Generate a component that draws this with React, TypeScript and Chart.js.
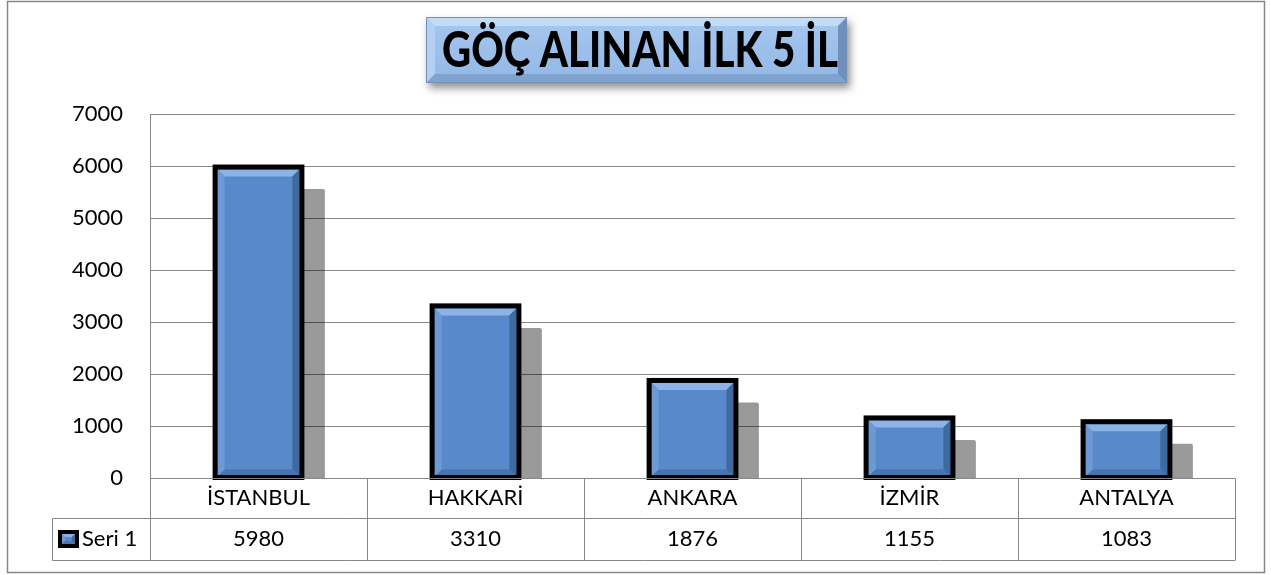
import React, { useEffect, useRef } from "react";
import { Chart, registerables } from "chart.js";

Chart.register(...registerables);

const TITLE = "GÖÇ ALINAN İLK 5 İL";
const categories = ["İSTANBUL", "HAKKARİ", "ANKARA", "İZMİR", "ANTALYA"];
const seriesName = "Seri 1";
const values = [5980, 3310, 1876, 1155, 1083];
const yMin = 0;
const yMax = 7000;
const yStep = 1000;

const FONT = "Lato, 'Open Sans', sans-serif";
const GRID = "#878787";

function bevel(
  ctx: CanvasRenderingContext2D,
  l: number, t: number, r: number, b: number, s: number,
  c: { top: string; left: string; right: string; bottom: string }
) {
  const poly = (pts: number[][], col: string) => {
    ctx.beginPath();
    ctx.moveTo(pts[0][0], pts[0][1]);
    for (let i = 1; i < pts.length; i++) ctx.lineTo(pts[i][0], pts[i][1]);
    ctx.closePath();
    ctx.fillStyle = col;
    ctx.fill();
  };
  const ss = Math.min(s, (r - l) / 2, (b - t) / 2);
  poly([[l, t], [r, t], [r - ss, t + ss], [l + ss, t + ss]], c.top);
  poly([[l, t], [l + ss, t + ss], [l + ss, b - ss], [l, b]], c.left);
  poly([[r, t], [r, b], [r - ss, b - ss], [r - ss, t + ss]], c.right);
  poly([[l, b], [l + ss, b - ss], [r - ss, b - ss], [r, b]], c.bottom);
}

const backgroundPlugin = {
  id: "bgTitle",
  beforeDraw(chart: any) {
    const ctx: CanvasRenderingContext2D = chart.ctx;
    ctx.save();
    ctx.fillStyle = "#ffffff";
    ctx.fillRect(0, 0, chart.width, chart.height);
    // outer frame
    ctx.strokeStyle = GRID;
    ctx.lineWidth = 1.5;
    ctx.strokeRect(7.5, 1.5, 1257, 571);

    // title box
    const l = 426, t = 17, r = 847, b = 83;
    ctx.save();
    ctx.shadowColor = "rgba(0,0,0,0.45)";
    ctx.shadowBlur = 8;
    ctx.shadowOffsetX = 3;
    ctx.shadowOffsetY = 5;
    const g = ctx.createLinearGradient(0, t, 0, b);
    g.addColorStop(0, "#A6C7EF");
    g.addColorStop(1, "#93B8E6");
    ctx.fillStyle = g;
    ctx.fillRect(l, t, r - l, b - t);
    ctx.restore();
    bevel(ctx, l, t, r, b, 9, {
      top: "#C4DBF6",
      left: "#B3CFF1",
      right: "#6F90BA",
      bottom: "#7FA2CF",
    });
    ctx.strokeStyle = "#7290B8";
    ctx.lineWidth = 1;
    ctx.strokeRect(l + 0.5, t + 0.5, r - l - 1, b - t - 1);

    ctx.fillStyle = "#000000";
    ctx.font = `900 49px ${FONT}`;
    ctx.textAlign = "center";
    ctx.textBaseline = "alphabetic";
    ctx.fillText(TITLE, 640, 67, 396);
    ctx.restore();
  },
};

const shadowPlugin = {
  id: "barShadow",
  beforeDatasetsDraw(chart: any) {
    const ctx: CanvasRenderingContext2D = chart.ctx;
    const area = chart.chartArea;
    const meta = chart.getDatasetMeta(0);
    ctx.save();
    ctx.beginPath();
    ctx.rect(area.left, area.top, area.right - area.left, area.bottom - area.top + 1);
    ctx.clip();
    ctx.fillStyle = "rgba(0,0,0,0.40)";
    const dx = 23, dy = 22, rad = 2;
    meta.data.forEach((bar: any) => {
      const { x, y, base, width } = bar.getProps(["x", "y", "base", "width"], true);
      const l = x - width / 2 + dx;
      const r = x + width / 2 + dx;
      const t = y + dy;
      const b = base + 2;
      ctx.beginPath();
      ctx.moveTo(l, b);
      ctx.lineTo(l, t + rad);
      ctx.quadraticCurveTo(l, t, l + rad, t);
      ctx.lineTo(r - rad, t);
      ctx.quadraticCurveTo(r, t, r, t + rad);
      ctx.lineTo(r, b);
      ctx.closePath();
      ctx.fill();
    });
    ctx.restore();
  },
  afterDatasetsDraw(chart: any) {
    const ctx: CanvasRenderingContext2D = chart.ctx;
    const meta = chart.getDatasetMeta(0);
    ctx.save();
    meta.data.forEach((bar: any) => {
      const { x, y, base, width } = bar.getProps(["x", "y", "base", "width"], true);
      const l = x - width / 2, r = x + width / 2;
      bevel(ctx, l + 2.5, y + 2.5, r - 2.5, base - 1, 7, {
        top: "#8DB3E6",
        left: "#6D9AD5",
        right: "#3F6A9F",
        bottom: "#4775AF",
      });
      ctx.strokeStyle = "#000000";
      ctx.lineWidth = 5;
      ctx.lineJoin = "miter";
      ctx.strokeRect(l, y, r - l, base - y);
    });
    ctx.restore();
  },
};

const tablePlugin = {
  id: "dataTable",
  afterDraw(chart: any) {
    const ctx: CanvasRenderingContext2D = chart.ctx;
    const area = chart.chartArea;
    const xs = chart.scales.x;
    const n = categories.length;
    const colW = (area.right - area.left) / n;
    const y0 = Math.round(area.bottom) + 0.5;
    const y1 = 518.5;
    const y2 = 560.5;
    const legL = 52.5;
    ctx.save();
    ctx.strokeStyle = GRID;
    ctx.lineWidth = 1;
    ctx.beginPath();
    ctx.moveTo(area.left, y0);
    ctx.lineTo(area.right, y0);
    ctx.moveTo(legL, y1);
    ctx.lineTo(area.right, y1);
    ctx.moveTo(legL, y2);
    ctx.lineTo(area.right, y2);
    ctx.moveTo(legL, y1);
    ctx.lineTo(legL, y2);
    for (let i = 0; i <= n; i++) {
      const xx = Math.round(area.left + i * colW) + 0.5;
      ctx.moveTo(xx, y0);
      ctx.lineTo(xx, y2);
    }
    ctx.stroke();

    // values
    ctx.fillStyle = "#000000";
    ctx.font = `22px ${FONT}`;
    ctx.textAlign = "center";
    ctx.textBaseline = "middle";
    values.forEach((v, i) => {
      ctx.fillText(String(v), xs.getPixelForValue(i), 539);
    });

    // legend key
    const kl = 58, kt = 530, kw = 21, kh = 18;
    ctx.fillStyle = "#000000";
    ctx.fillRect(kl, kt, kw, kh);
    ctx.fillStyle = "#5889CA";
    ctx.fillRect(kl + 4, kt + 4, kw - 8, kh - 8);
    bevel(ctx, kl + 4, kt + 4, kl + kw - 4, kt + kh - 4, 3, {
      top: "#8DB3E6",
      left: "#6D9AD5",
      right: "#3F6A9F",
      bottom: "#4775AF",
    });
    ctx.fillStyle = "#000000";
    ctx.textAlign = "left";
    ctx.fillText(seriesName, 82, 539);
    ctx.restore();
  },
};

export default function App() {
  const ref = useRef<HTMLCanvasElement | null>(null);
  useEffect(() => {
    if (!ref.current) return;
    const chart = new Chart(ref.current, {
      type: "bar",
      data: {
        labels: categories,
        datasets: [
          {
            label: seriesName,
            data: values,
            backgroundColor: "#5889CA",
            borderWidth: 0,
            barPercentage: 0.4,
            categoryPercentage: 1,
          },
        ],
      },
      options: {
        responsive: false,
        maintainAspectRatio: false,
        animation: false,
        layout: { padding: { top: 114, right: 36, bottom: 15, left: 0 } },
        plugins: {
          legend: { display: false },
          title: { display: false },
          tooltip: { enabled: false },
        },
        scales: {
          x: {
            grid: { display: false, drawTicks: false },
            border: { display: false },
            ticks: {
              color: "#000000",
              font: { family: FONT, size: 22 },
              padding: 7,
              maxRotation: 0,
            },
            afterFit: (s: any) => {
              s.height = 82;
            },
          },
          y: {
            min: yMin,
            max: yMax,
            grid: { color: GRID, drawTicks: false, lineWidth: 1 },
            border: { display: true, color: GRID, width: 1 },
            ticks: {
              stepSize: yStep,
              color: "#000000",
              font: { family: FONT, size: 22 },
              padding: 27,
              callback: (v: any) => String(v),
            },
            afterFit: (s: any) => {
              s.width = 150;
            },
          },
        },
      },
      plugins: [backgroundPlugin, shadowPlugin, tablePlugin],
    });
    return () => chart.destroy();
  }, []);
  return (
    <div style={{ position: "absolute", left: 0, top: 0, width: 1271, height: 575 }}>
      <canvas ref={ref} width={1271} height={575} style={{ display: "block" }} />
    </div>
  );
}
